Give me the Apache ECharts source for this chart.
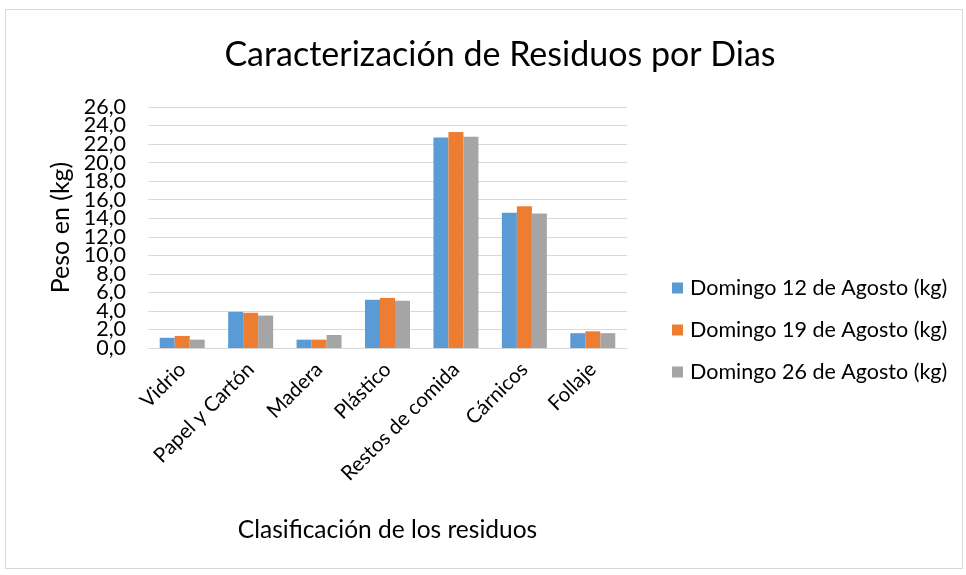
<!doctype html>
<html>
<head>
<meta charset="utf-8">
<title>Caracterización de Residuos por Dias</title>
<script src="https://cdn.jsdelivr.net/npm/echarts@6/dist/echarts.min.js"></script>
<style>
  html, body { margin: 0; padding: 0; background: #fff; }
  #frame { position: absolute; left: 5px; top: 9px; width: 958px; height: 560px; border: 1px solid #d9d9d9; box-sizing: border-box; }
  #chart { position: absolute; left: 0; top: 0; width: 966px; height: 575px; }
</style>
</head>
<body>
<div id="frame"></div>
<div id="chart"></div>
<script>
// categorías del eje X
const categories = ["Vidrio", "Papel y Cartón", "Madera", "Plástico", "Restos de comida", "Cárnicos", "Follaje"];
// nombres de series
const seriesNames = ["Domingo 12 de Agosto (kg)", "Domingo 19 de Agosto (kg)", "Domingo 26 de Agosto (kg)"];
// valores (kg)
const agosto12 = [1.1, 3.9, 0.9, 5.2, 22.7, 14.6, 1.6];
const agosto19 = [1.3, 3.8, 0.9, 5.4, 23.3, 15.3, 1.8];
const agosto26 = [0.9, 3.5, 1.4, 5.1, 22.8, 14.5, 1.6];

const colors = ["#5B9BD5", "#ED7D31", "#A5A5A5"];
const font = "Lato, 'Open Sans', sans-serif";
const textColor = "#000";

const chart = echarts.init(document.getElementById("chart"), null, { renderer: "canvas" });

// construir las series a partir de los arreglos
const data = [agosto12, agosto19, agosto26];
const series = data.map((vals, i) => ({
  name: seriesNames[i],
  type: "bar",
  data: vals,
  yAxisIndex: 0,
  barWidth: 15,
  barGap: "0%",
  itemStyle: { color: colors[i] },
}));

// etiquetas del eje Y repartidas en dos ejes superpuestos (evita que ECharts oculte alguna)
const fmt = (v) => v.toFixed(1).replace(".", ",");
const yLabelBase = {
  fontFamily: font, fontSize: 21.5, color: textColor, margin: 22,
  showMinLabel: true, showMaxLabel: true,
};

chart.setOption({
  animation: false,
  textStyle: { fontFamily: font, color: textColor },
  title: {
    text: "Caracterización de Residuos por Dias",
    left: 495,
    textAlign: "center",
    top: 33,
    textStyle: { fontFamily: font, fontSize: 34, fontWeight: "normal", color: textColor },
  },
  legend: {
    orient: "vertical",
    left: 667,
    top: 272,
    itemWidth: 11,
    itemHeight: 11,
    itemGap: 20,
    icon: "rect",
    textStyle: { fontFamily: font, fontSize: 21.5, color: textColor, padding: [0, 0, 0, 2] },
  },
  grid: { left: 148, right: 339, top: 107, bottom: 227, containLabel: false },
  xAxis: {
    type: "category",
    data: categories,
    name: "Clasificación de los residuos",
    nameLocation: "middle",
    nameGap: 170,
    nameTextStyle: { fontFamily: font, fontSize: 24.5, color: textColor },
    axisLine: { lineStyle: { color: "#d9d9d9" } },
    axisTick: { show: false },
    axisLabel: { rotate: 45, fontFamily: font, fontSize: 20.5, color: textColor, margin: 18, interval: 0 },
  },
  yAxis: [
    {
      type: "value",
      position: "left",
      min: 0,
      max: 26,
      interval: 2,
      name: "Peso en (kg)",
      nameLocation: "middle",
      nameGap: 75,
      nameTextStyle: { fontFamily: font, fontSize: 25, color: textColor },
      axisLine: { show: false },
      axisTick: { show: false },
      splitLine: { lineStyle: { color: "#d9d9d9", width: 1 } },
      axisLabel: Object.assign({}, yLabelBase, { formatter: (v) => (Math.round(v) % 4 === 0 ? fmt(v) : "") }),
    },
    {
      type: "value",
      position: "left",
      offset: 0,
      min: 0,
      max: 26,
      interval: 2,
      axisLine: { show: false },
      axisTick: { show: false },
      splitLine: { show: false },
      axisLabel: Object.assign({}, yLabelBase, { formatter: (v) => (Math.round(v) % 4 === 2 ? fmt(v) : "") }),
    },
  ],
  series: series,
});
</script>
</body>
</html>
